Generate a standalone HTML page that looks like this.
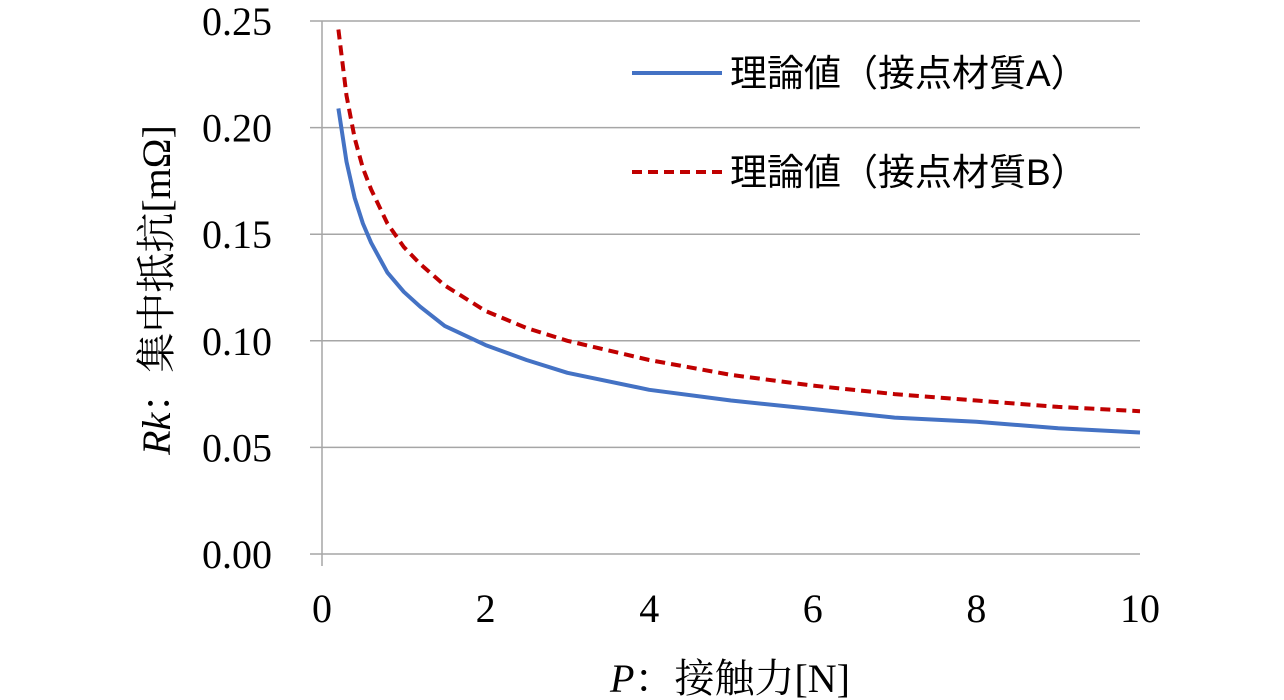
<!DOCTYPE html>
<html><head><meta charset="utf-8"><style>
body{margin:0;background:#fff;}
svg{display:block;}
text{font-family:"Liberation Serif","Noto Serif CJK SC","Noto Sans CJK JP",serif;fill:#000;}
.lg{font-family:"Liberation Sans","Noto Sans CJK JP",sans-serif;}
</style></head><body>
<svg id="chart" width="1284" height="700"></svg>
<script>
const pValues=[0.2,0.3,0.4,0.5,0.6,0.8,1,1.2,1.5,2,2.5,3,4,5,6,7,8,9,10];
const seriesA=[0.209,0.184,0.167,0.155,0.146,0.132,0.123,0.116,0.107,0.098,0.091,0.085,0.077,0.072,0.068,0.064,0.062,0.059,0.057];
const seriesB=[0.246,0.215,0.195,0.181,0.171,0.155,0.144,0.136,0.126,0.114,0.106,0.100,0.091,0.084,0.079,0.075,0.072,0.069,0.067];
const xTicks=[0,2,4,6,8,10];
const yTicks=[0,0.05,0.10,0.15,0.20,0.25];
const svg=document.getElementById('chart');
const NS='http://www.w3.org/2000/svg';
const X0=322,X1=1140,Y0=554,Y1=21;
const sx=v=>X0+(v-0)/(10-0)*(X1-X0);
const sy=v=>Y0-(v-0)/(0.25-0)*(Y0-Y1);
function mk(tag,attrs,parent){const e=document.createElementNS(NS,tag);for(const k in attrs)e.setAttribute(k,attrs[k]);(parent||svg).appendChild(e);return e;}
yTicks.forEach(t=>{
  const l=mk('line',{x1:310,x2:X1,y1:sy(t),y2:sy(t),stroke:'#a6a6a6','stroke-width':1.5});
  
  
  const tx=mk('text',{x:272,y:sy(t)+14,'text-anchor':'end','font-size':40});
  tx.textContent=t.toFixed(2);
  
  
});
const ax=mk('line',{x1:X0,x2:X0,y1:Y1,y2:566,stroke:'#a6a6a6','stroke-width':1.5});


xTicks.forEach(t=>{
  const tx=mk('text',{x:sx(t),y:622,'text-anchor':'middle','font-size':40});
  tx.textContent=t;
  
  
});
function pathOf(ys){return pValues.map((p,i)=>(i?'L':'M')+sx(p).toFixed(1)+','+sy(ys[i]).toFixed(1)).join(' ');}
const pb=mk('path',{d:pathOf(seriesB),fill:'none',stroke:'#c00000','stroke-width':4,'stroke-dasharray':'10,6'});


const pa=mk('path',{d:pathOf(seriesA),fill:'none',stroke:'#4472c4','stroke-width':4,'stroke-linejoin':'round'});


</script>
<svg width="0" height="0" style="position:absolute"></svg>
<div style="position:absolute;left:0;top:0;width:1284px;height:700px;pointer-events:none">
<svg width="1284" height="700" style="position:absolute;left:0;top:0">
<g>
<g>
<line x1="632" x2="722" y1="73" y2="73" stroke="#4472c4" stroke-width="4"/>
<text class="lg" x="730" y="86" font-size="37">理論値（接点材質A）</text>
</g>
<g>
<line x1="632" x2="722" y1="172" y2="172" stroke="#c00000" stroke-width="4" stroke-dasharray="10,6"/>
<text class="lg" x="730" y="185" font-size="37">理論値（接点材質B）</text>
</g>
</g>
<text transform="translate(170,290) rotate(-90)" text-anchor="middle" font-size="40"><tspan font-style="italic">Rk</tspan>：集中抵抗[mΩ]</text>
<text x="730" y="692" text-anchor="middle" font-size="40"><tspan font-style="italic">P</tspan>：接触力[N]</text>
</svg>
</div>
</body></html>
